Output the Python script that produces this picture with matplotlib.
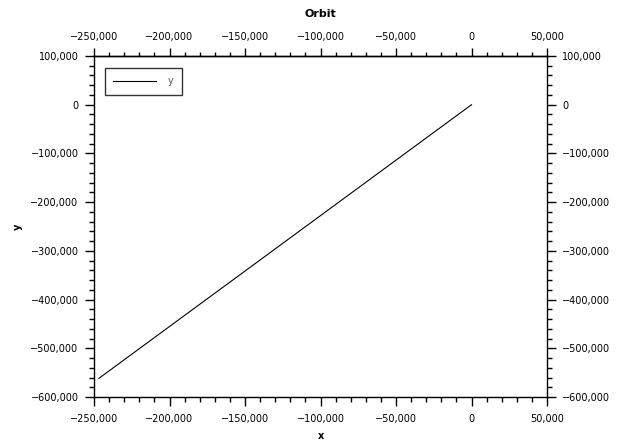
import matplotlib
matplotlib.use("Agg")
import matplotlib.pyplot as plt
from matplotlib.ticker import MultipleLocator, FixedLocator, FuncFormatter

x_vals = [0, -246700]
y_vals = [0, -561600]
series_name = "y"
title = "Orbit"
x_label = "x"
y_label = "y"
x_ticks = [-250000, -200000, -150000, -100000, -50000, 0, 50000]
y_ticks = [-600000, -500000, -400000, -300000, -200000, -100000, 0, 100000]

W, H = 629, 448
L, R, T, B = 94, 547, 56, 397

fig = plt.figure(figsize=(W / 100, H / 100), dpi=100)
ax = fig.add_axes([L / W, 1 - B / H, (R - L) / W, (B - T) / H])

ax.plot(x_vals, y_vals, color="black", linewidth=0.8, label=series_name)

ax.set_xlim(x_ticks[0], x_ticks[-1])
ax.set_ylim(y_ticks[0], y_ticks[-1])

fmt = FuncFormatter(lambda v, p: ("\u2212" if v < 0 else "") + f"{abs(int(round(v))):,}")

def style_x(a):
    a.xaxis.set_major_locator(FixedLocator(x_ticks))
    a.xaxis.set_minor_locator(MultipleLocator(10000))
    a.xaxis.set_major_formatter(fmt)

style_x(ax)
ax.yaxis.set_major_locator(FixedLocator(y_ticks))
ax.yaxis.set_minor_locator(MultipleLocator(20000))
ax.yaxis.set_major_formatter(fmt)

ax.tick_params(which="both", direction="out", top=False, right=True,
               labeltop=False, labelright=True, labelsize=7, colors="black")
ax.tick_params(which="major", length=6.8, width=1)
ax.tick_params(which="minor", length=3.4, width=1)
ax.tick_params(axis="x", which="major", pad=5.5)
ax.tick_params(axis="y", which="major", pad=4.3)
for s in ax.spines.values():
    s.set_linewidth(1)

top = ax.secondary_xaxis("top")
style_x(top)
top.tick_params(which="both", direction="out", labelsize=7, colors="black")
top.tick_params(which="major", length=5.6, width=1, pad=4.6)
top.tick_params(which="minor", length=3.0, width=1)
top.spines["top"].set_linewidth(1)

fig.text((L + R) / 2 / W, 1 - 14 / H, title, fontsize=8, fontweight="bold",
         ha="center", va="center")
fig.text((L + R) / 2 / W, 1 - 436 / H, x_label, fontsize=7, fontweight="bold",
         ha="center", va="center")
fig.text(18 / W, 1 - ((T + B) / 2) / H, y_label, fontsize=7, fontweight="bold",
         ha="center", va="center", rotation=90)

leg = ax.legend(loc="upper left",
                bbox_to_anchor=((105 - L) / (R - L), 1 - (68 - T) / (B - T)),
                borderaxespad=0, fontsize=7, frameon=True, fancybox=False,
                handlelength=4.4, borderpad=0.85, handletextpad=1.2)
leg.get_frame().set_edgecolor("black")
leg.get_frame().set_linewidth(1)
for t in leg.get_texts():
    t.set_color("#555555")

fig.savefig("out.png", dpi=100)
